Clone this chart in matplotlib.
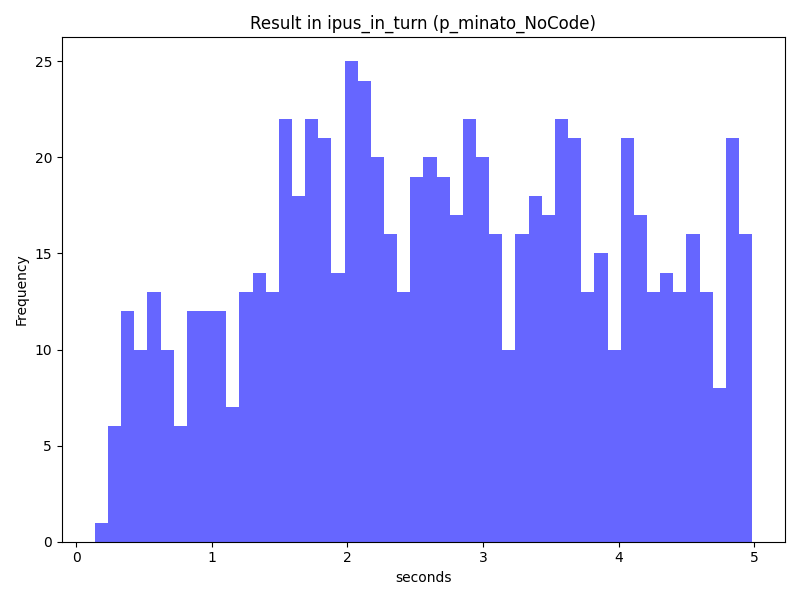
import numpy as np
import matplotlib
matplotlib.use("Agg")
import matplotlib.pyplot as plt

# bin range
t_min = 0.136
t_max = 4.985
n_bins = 50

counts = [1, 6, 12, 10, 13, 10, 6, 12, 12, 12,
          7, 13, 14, 13, 22, 18, 22, 21, 14, 25,
          24, 20, 16, 13, 19, 20, 19, 17, 22, 20,
          16, 10, 16, 18, 17, 22, 21, 13, 15, 10,
          21, 17, 13, 14, 13, 16, 13, 8, 21, 16]

edges = np.linspace(t_min, t_max, n_bins + 1)

plt.figure(figsize=(8, 6), dpi=100)
plt.hist(edges[:-1], bins=edges, weights=counts, color="blue", alpha=0.6)
plt.title("Result in ipus_in_turn (p_minato_NoCode)")
plt.xlabel("seconds")
plt.ylabel("Frequency")
plt.tight_layout()
plt.savefig("out.png")
